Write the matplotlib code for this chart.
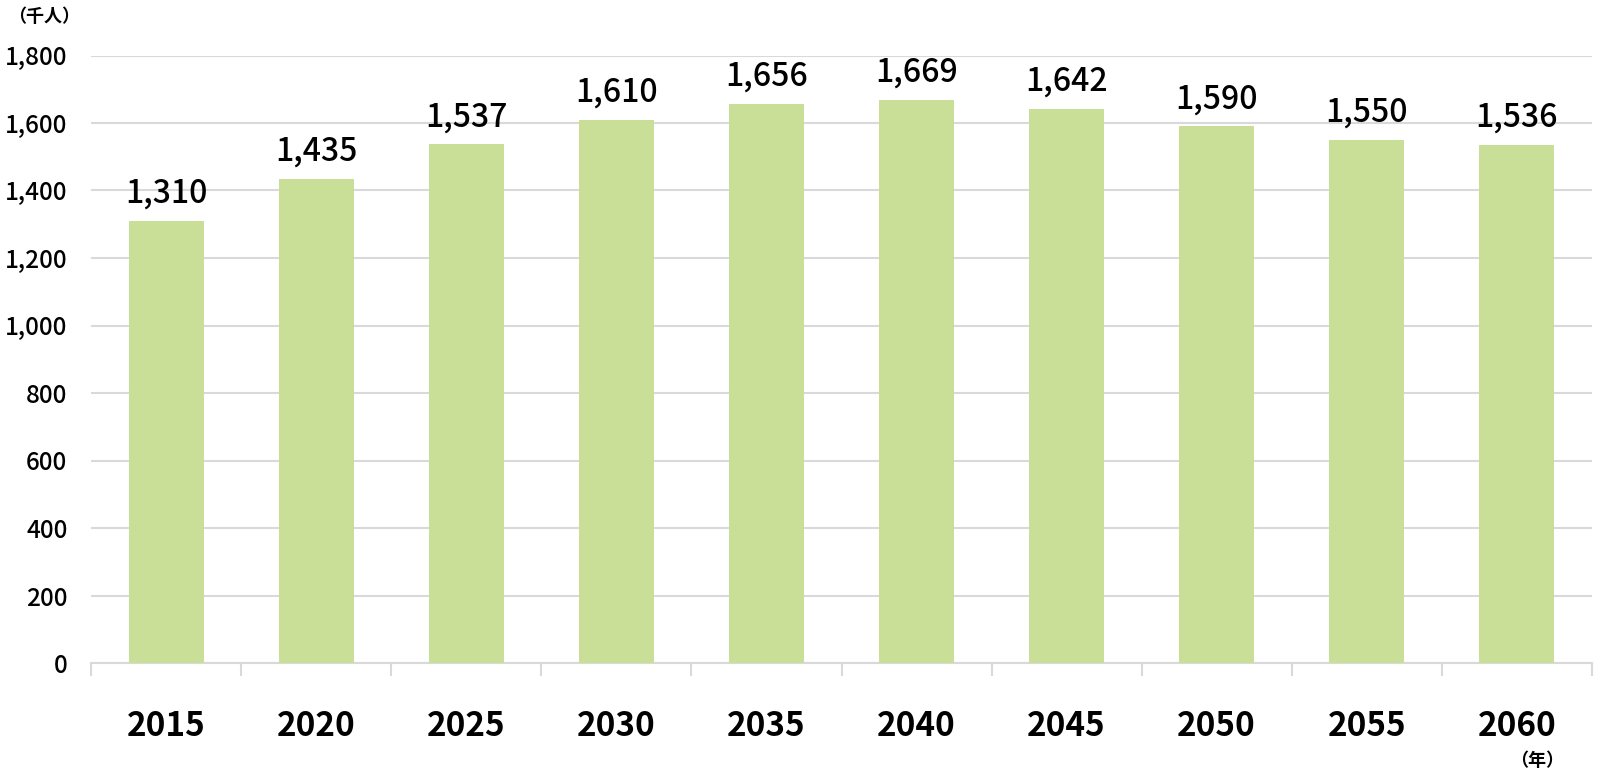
import matplotlib
matplotlib.use("Agg")
import matplotlib.pyplot as plt
import numpy as np

plt.rcParams['font.family'] = ['Noto Sans CJK JP', 'DejaVu Sans']

years = ["2015", "2020", "2025", "2030", "2035", "2040", "2045", "2050", "2055", "2060"]
values = [1310, 1435, 1537, 1610, 1656, 1669, 1642, 1590, 1550, 1536]
yticks = [0, 200, 400, 600, 800, 1000, 1200, 1400, 1600, 1800]

fig = plt.figure(figsize=(16, 7.8), dpi=100)
ax = fig.add_axes([91/1600, 1-663/780, (1592-91)/1600, (663-55.5)/780])

x = np.arange(len(years))
bars = ax.bar(x, values, width=0.5, color="#C9DF97", zorder=3)

ax.set_xlim(-0.5, len(years)-0.5)
ax.set_ylim(0, 1800)
ax.set_yticks(yticks)
ax.set_yticklabels([f"{v:,}" for v in yticks], fontsize=17.5, fontweight='medium')
ax.yaxis.grid(True, color="#d9d9d9", linewidth=1.5, zorder=0)
ax.tick_params(axis='y', length=0, pad=17)

ax.set_xticks(x)
ax.set_xticklabels(years, fontsize=24, fontweight='bold')
ax.set_xticks(np.arange(-0.5, len(years), 1), minor=True)
ax.tick_params(axis='x', which='major', length=0, pad=34)
ax.tick_params(axis='x', which='minor', length=9.5, width=1.5, color="#d9d9d9")

for s in ['top', 'right', 'left']:
    ax.spines[s].set_visible(False)
ax.spines['bottom'].set_color("#d9d9d9")
ax.spines['bottom'].set_linewidth(1.5)

for xi, v in zip(x, values):
    ax.annotate(f"{v:,}", (xi, v), xytext=(0, 8), textcoords='offset points',
                ha='center', va='bottom', fontsize=23, fontweight='medium', clip_on=False)

fig.text(8/1600, 1-17/780, "（千人）", fontsize=13, fontweight='bold', ha='left', va='center')
fig.text(1537/1600, 1-761/780, "（年）", fontsize=13, fontweight='bold', ha='center', va='center')

fig.savefig("out.png", dpi=100)
